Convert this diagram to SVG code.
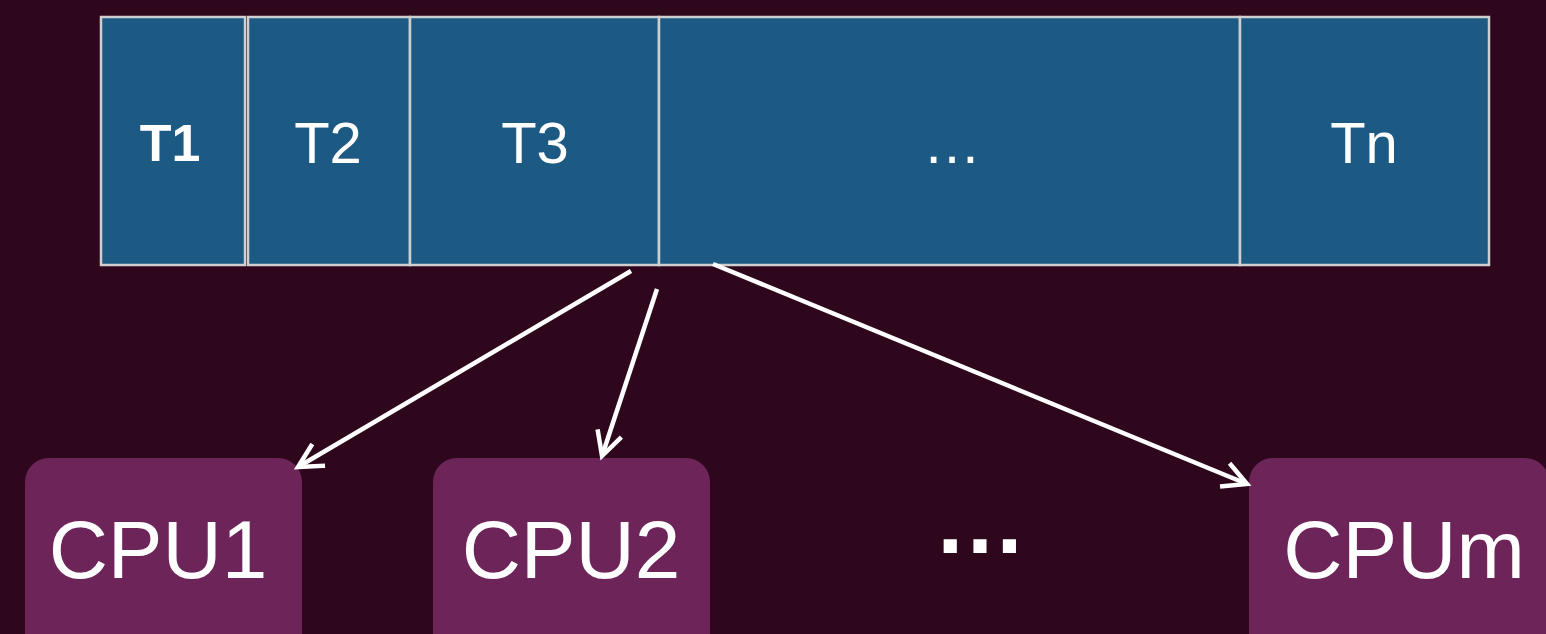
<svg xmlns="http://www.w3.org/2000/svg" width="1546" height="634" viewBox="0 0 1546 634">
  <defs>
    <style>
      .cell { fill: #1c5a83; stroke: #cfcfcf; stroke-width: 2.5; }
      .cpu { fill: #6d2459; }
      .t { font-family: "Liberation Sans", Arial, sans-serif; fill: #ffffff; text-anchor: middle; }
      .small { font-size: 58px; }
      .big { font-size: 82px; }
      .conn { stroke: #ffffff; stroke-width: 4.5; fill: none; marker-end: url(#arrow); }
    </style>
    <marker id="arrow" markerUnits="userSpaceOnUse" markerWidth="40" markerHeight="40" refX="0" refY="0" viewBox="-30 -20 40 40" orient="auto" overflow="visible">
      <path d="M -22 -11.5 L 0 0 L -22 11.5" fill="none" stroke="#ffffff" stroke-width="4.5" stroke-linecap="square"/>
    </marker>
  </defs>
  <rect x="0" y="0" width="1546" height="634" fill="#2f071d"/>

  <g id="task-bar">
    <g id="cell-t1">
      <rect class="cell" x="101" y="17" width="144" height="248"/>
      <text class="t" x="170" y="161" font-size="52" font-weight="bold">T1</text>
    </g>
    <g id="cell-t2">
      <rect class="cell" x="248" y="17" width="162" height="248"/>
      <text class="t small" x="328" y="163">T2</text>
    </g>
    <g id="cell-t3">
      <rect class="cell" x="410" y="17" width="249" height="248"/>
      <text class="t small" x="535" y="163">T3</text>
    </g>
    <g id="cell-dots">
      <rect class="cell" x="659" y="17" width="581" height="248"/>
      <text class="t small" x="952" y="163">…</text>
    </g>
    <g id="cell-tn">
      <rect class="cell" x="1240" y="17" width="249" height="248"/>
      <text class="t small" x="1364" y="163">Tn</text>
    </g>
  </g>

  <g id="cpu1">
    <rect class="cpu" x="25" y="458" width="277" height="200" rx="24"/>
    <text class="t big" x="158" y="578">CPU1</text>
  </g>
  <g id="cpu2">
    <rect class="cpu" x="433" y="458" width="277" height="200" rx="24"/>
    <text class="t big" x="571" y="578">CPU2</text>
  </g>
  <g id="cpu-dots">
    <text class="t" x="980" y="553" font-size="93" font-weight="bold">…</text>
  </g>
  <g id="cpum">
    <rect class="cpu" x="1249" y="458" width="300" height="200" rx="24"/>
    <text class="t big" x="1404" y="578">CPUm</text>
  </g>

  <g id="connectors">
    <line class="conn" x1="631" y1="271" x2="298" y2="467"/>
    <line class="conn" x1="657" y1="289" x2="602" y2="456"/>
    <line class="conn" x1="713" y1="264" x2="1247" y2="484"/>
  </g>
</svg>
